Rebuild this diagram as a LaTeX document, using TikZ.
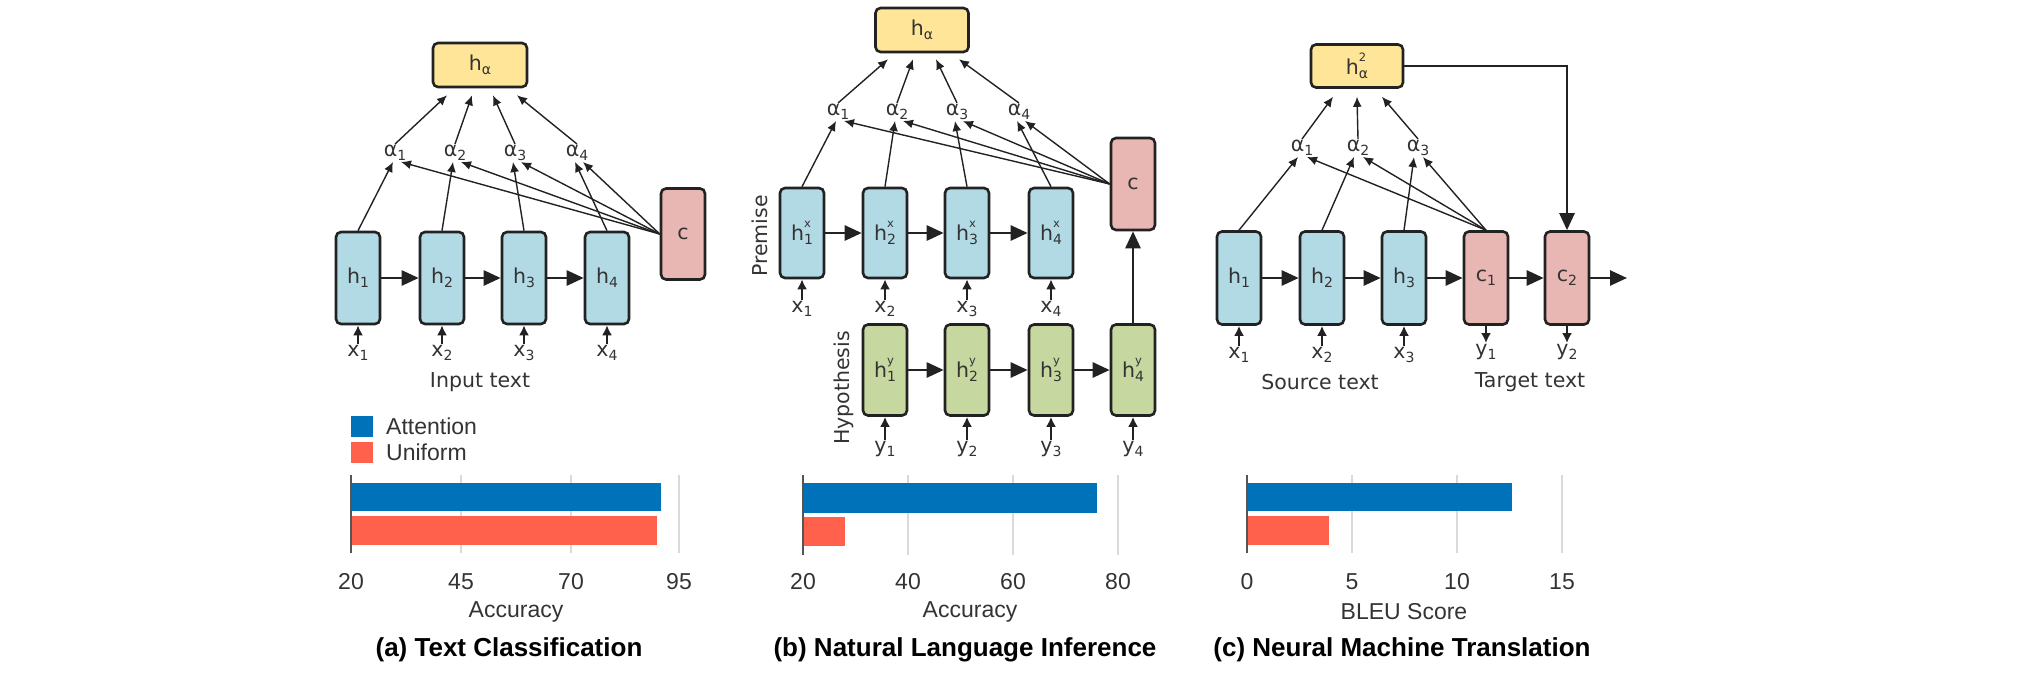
\documentclass[tikz,border=0pt]{standalone}
\usepackage{fontspec}
\setmainfont{DejaVu Sans}
\newfontfamily\chartfont{Liberation Sans}
\usetikzlibrary{arrows.meta}
\definecolor{boxblue}{HTML}{B2DAE5}
\definecolor{boxgreen}{HTML}{C6D89F}
\definecolor{boxred}{HTML}{E8B6B3}
\definecolor{boxyel}{HTML}{FFE597}
\definecolor{barblue}{HTML}{0072BA}
\definecolor{barred}{HTML}{FF614C}
\definecolor{linec}{HTML}{222222}
\definecolor{txt}{HTML}{333333}
\definecolor{gridc}{HTML}{DADADA}
\definecolor{axisc}{HTML}{555555}
\newcommand\dfont{\fontsize{20.5}{24}\selectfont}
\newcommand\cfont{\chartfont\fontsize{23}{27}\selectfont}
\newcommand\tfont{\chartfont\bfseries\fontsize{26}{30}\selectfont}
\newcommand\sbs[1]{\raisebox{-0.2em}{\fontsize{14}{14}\selectfont #1}}
\newcommand\sps[2]{\makebox[0pt][l]{\raisebox{0.62em}{\fontsize{11.5}{11.5}\selectfont #1}}\raisebox{-0.2em}{\fontsize{14}{14}\selectfont #2}}
\tikzset{
  box/.style={draw=linec, line width=2.6pt, rounded corners=5pt, minimum width=44pt, minimum height=92pt, inner sep=0pt, text=txt, font=\dfont},
  hbox/.style={box, fill=boxblue},
  gbox/.style={box, fill=boxgreen},
  rbox/.style={box, fill=boxred},
  ybox/.style={box, fill=boxyel, minimum width=93pt, minimum height=44pt},
  lbl/.style={text=txt, font=\dfont, inner sep=1pt},
  clbl/.style={text=txt, font=\cfont, inner sep=1pt},
  ttl/.style={text=black, font=\tfont, inner sep=1pt},
  att/.style={draw=linec, line width=1.4pt, -{Latex[length=10pt,width=9pt]}},
  rec/.style={draw=linec, line width=2.6pt, -{Triangle[length=17pt,width=15pt]}},
  inp/.style={draw=linec, line width=2.2pt, -{Latex[length=10pt,width=10pt]}},
  gridl/.style={draw=gridc, line width=2.5pt},
  axisl/.style={draw=axisc, line width=2pt},
}
\begin{document}
\begin{tikzpicture}[x=1pt,y=-1pt]
\useasboundingbox (0,0) rectangle (2043,685);

% ================= Panel (a) =================
\node[ybox, minimum width=94pt] (a-ha) at (480,65) {h\sbs{α}};
\node[hbox] (a-h1) at (358,278) {h\sbs{1}};
\node[hbox] (a-h2) at (442,278) {h\sbs{2}};
\node[hbox] (a-h3) at (524,278) {h\sbs{3}};
\node[hbox] (a-h4) at (607,278) {h\sbs{4}};
\node[rbox, minimum height=91pt] (a-c) at (683,234) {c};
\node[lbl] (a-a1) at (395,153) {α\sbs{1}};
\node[lbl] (a-a2) at (455,153) {α\sbs{2}};
\node[lbl] (a-a3) at (515,153) {α\sbs{3}};
\node[lbl] (a-a4) at (577,153) {α\sbs{4}};
\node[lbl] (a-x1) at (358,353) {x\sbs{1}};
\node[lbl] (a-x2) at (442,353) {x\sbs{2}};
\node[lbl] (a-x3) at (524,353) {x\sbs{3}};
\node[lbl] (a-x4) at (607,353) {x\sbs{4}};
\node[lbl] (a-in) at (480,382) {Input text};

\draw[rec] (a-h1) -- (a-h2);
\draw[rec] (a-h2) -- (a-h3);
\draw[rec] (a-h3) -- (a-h4);
\foreach \i in {1,2,3,4}{
  \draw[inp] (a-x\i) -- (a-h\i);
  \draw[att] (a-h\i.north) -- ([xshift=-2pt]a-a\i.south);
  \draw[att] (a-c.west) -- ([xshift=6pt]a-a\i.south);
}
\draw[att] (a-a1.north) -- ([xshift=-33pt,yshift=-7pt]a-ha.south);
\draw[att] (a-a2.north) -- ([xshift=-8pt,yshift=-7pt]a-ha.south);
\draw[att] (a-a3.north) -- ([xshift=13pt,yshift=-7pt]a-ha.south);
\draw[att] (a-a4.north) -- ([xshift=37pt,yshift=-7pt]a-ha.south);

% legend
\fill[barblue] (351,416) rectangle (373,437);
\fill[barred] (351,442) rectangle (373,463);
\node[clbl, anchor=west] (lg-att) at (385,426) {Attention};
\node[clbl, anchor=west] (lg-uni) at (385,452) {Uniform};

% chart (a)
\draw[gridl] (461,475) -- (461,553);
\draw[gridl] (571,475) -- (571,553);
\draw[gridl] (679,475) -- (679,553);
\fill[barblue] (351,483) rectangle (661,511);
\fill[barred] (351,516) rectangle (657,545);
\draw[axisl] (351,475) -- (351,553);
\node[clbl] (ta1) at (351,582) {20};
\node[clbl] (ta2) at (461,582) {45};
\node[clbl] (ta3) at (571,582) {70};
\node[clbl] (ta4) at (679,582) {95};
\node[clbl] (ta-x) at (516,612) {Accuracy};
\node[ttl] (ta-t) at (509,650) {(a) Text Classification};

% ================= Panel (b) =================
\node[ybox] (b-ha) at (922,30) {h\sbs{α}};
\node[hbox, minimum height=90pt] (b-p1) at (802,233) {h\sps{x}{1}};
\node[hbox, minimum height=90pt] (b-p2) at (885,233) {h\sps{x}{2}};
\node[hbox, minimum height=90pt] (b-p3) at (967,233) {h\sps{x}{3}};
\node[hbox, minimum height=90pt] (b-p4) at (1051,233) {h\sps{x}{4}};
\node[gbox, minimum height=91pt] (b-q1) at (885,370) {h\sps{y}{1}};
\node[gbox, minimum height=91pt] (b-q2) at (967,370) {h\sps{y}{2}};
\node[gbox, minimum height=91pt] (b-q3) at (1051,370) {h\sps{y}{3}};
\node[gbox, minimum height=91pt] (b-q4) at (1133,370) {h\sps{y}{4}};
\node[rbox] (b-c) at (1133,184) {c};
\node[lbl] (b-a1) at (838,112) {α\sbs{1}};
\node[lbl] (b-a2) at (897,112) {α\sbs{2}};
\node[lbl] (b-a3) at (957,112) {α\sbs{3}};
\node[lbl] (b-a4) at (1019,112) {α\sbs{4}};
\node[lbl] (b-x1) at (802,309) {x\sbs{1}};
\node[lbl] (b-x2) at (885,309) {x\sbs{2}};
\node[lbl] (b-x3) at (967,309) {x\sbs{3}};
\node[lbl] (b-x4) at (1051,309) {x\sbs{4}};
\node[lbl] (b-y1) at (885,449) {y\sbs{1}};
\node[lbl] (b-y2) at (967,449) {y\sbs{2}};
\node[lbl] (b-y3) at (1051,449) {y\sbs{3}};
\node[lbl] (b-y4) at (1133,449) {y\sbs{4}};
\node[lbl, rotate=90] (b-prem) at (760,236) {Premise};
\node[lbl, rotate=90] (b-hyp) at (844,388) {Hypothesis};

\draw[rec] (b-p1) -- (b-p2);
\draw[rec] (b-p2) -- (b-p3);
\draw[rec] (b-p3) -- (b-p4);
\draw[rec] (b-q1) -- (b-q2);
\draw[rec] (b-q2) -- (b-q3);
\draw[rec] (b-q3) -- (b-q4);
\draw[rec] (b-q4) -- (b-c);
\foreach \i in {1,2,3,4}{
  \draw[inp] (b-x\i) -- (b-p\i);
  \draw[inp] (b-y\i) -- (b-q\i);
  \draw[att] (b-p\i.north) -- ([xshift=-2pt]b-a\i.south);
  \draw[att] (b-c.west) -- ([xshift=6pt]b-a\i.south);
}
\draw[att] (b-a1.north) -- ([xshift=-34pt,yshift=-6pt]b-ha.south);
\draw[att] (b-a2.north) -- ([xshift=-9pt,yshift=-6pt]b-ha.south);
\draw[att] (b-a3.north) -- ([xshift=14pt,yshift=-6pt]b-ha.south);
\draw[att] (b-a4.north) -- ([xshift=37pt,yshift=-6pt]b-ha.south);

% chart (b)
\draw[gridl] (908,475) -- (908,555);
\draw[gridl] (1013,475) -- (1013,555);
\draw[gridl] (1118,475) -- (1118,555);
\fill[barblue] (803,483) rectangle (1097,513);
\fill[barred] (803,517) rectangle (845,546);
\draw[axisl] (803,475) -- (803,555);
\node[clbl] (tb1) at (803,582) {20};
\node[clbl] (tb2) at (908,582) {40};
\node[clbl] (tb3) at (1013,582) {60};
\node[clbl] (tb4) at (1118,582) {80};
\node[clbl] (tb-x) at (970,612) {Accuracy};
\node[ttl] (tb-t) at (965,650) {(b) Natural Language Inference};

% ================= Panel (c) =================
\node[ybox, minimum width=92pt, minimum height=43pt] (c-ha) at (1357,66) {h\sps{2}{α}};
\node[hbox, minimum height=93pt] (c-h1) at (1239,278) {h\sbs{1}};
\node[hbox, minimum height=93pt] (c-h2) at (1322,278) {h\sbs{2}};
\node[hbox, minimum height=93pt] (c-h3) at (1404,278) {h\sbs{3}};
\node[rbox, minimum height=93pt] (c-c1) at (1486,278) {c\sbs{1}};
\node[rbox, minimum height=93pt] (c-c2) at (1567,278) {c\sbs{2}};
\coordinate (c-out) at (1627,278);
\node[lbl] (c-a1) at (1302,148) {α\sbs{1}};
\node[lbl] (c-a2) at (1358,148) {α\sbs{2}};
\node[lbl] (c-a3) at (1418,148) {α\sbs{3}};
\node[lbl] (c-x1) at (1239,355) {x\sbs{1}};
\node[lbl] (c-x2) at (1322,355) {x\sbs{2}};
\node[lbl] (c-x3) at (1404,355) {x\sbs{3}};
\node[lbl] (c-y1) at (1486,352) {y\sbs{1}};
\node[lbl] (c-y2) at (1567,352) {y\sbs{2}};
\node[lbl] (c-src) at (1320,382) {Source text};
\node[lbl] (c-tgt) at (1530,382) {Target text};

\draw[rec] (c-h1) -- (c-h2);
\draw[rec] (c-h2) -- (c-h3);
\draw[rec] (c-h3) -- (c-c1);
\draw[rec] (c-c1) -- (c-c2);
\draw[rec] (c-c2) -- (c-out);
\draw[rec] (c-ha.east) -| (c-c2.north);
\foreach \i in {1,2,3}{
  \draw[inp] (c-x\i) -- (c-h\i);
  \draw[att] (c-h\i.north) -- ([xshift=-4pt]c-a\i.south);
  \draw[att] (c-c1.north) -- ([xshift=5pt]c-a\i.south);
}
\draw[inp] (c-c1) -- (c-y1);
\draw[inp] (c-c2) -- (c-y2);
\draw[att] (c-a1.north) -- ([xshift=-24pt,yshift=-8pt]c-ha.south);
\draw[att] (c-a2.north) -- ([xshift=0pt,yshift=-8pt]c-ha.south);
\draw[att] (c-a3.north) -- ([xshift=25pt,yshift=-8pt]c-ha.south);

% chart (c)
\draw[gridl] (1352,475) -- (1352,553);
\draw[gridl] (1457,475) -- (1457,553);
\draw[gridl] (1562,475) -- (1562,553);
\fill[barblue] (1247,483) rectangle (1512,511);
\fill[barred] (1247,516) rectangle (1329,545);
\draw[axisl] (1247,475) -- (1247,553);
\node[clbl] (tc1) at (1247,582) {0};
\node[clbl] (tc2) at (1352,582) {5};
\node[clbl] (tc3) at (1457,582) {10};
\node[clbl] (tc4) at (1562,582) {15};
\node[clbl] (tc-x) at (1404,612) {BLEU Score};
\node[ttl] (tc-t) at (1402,650) {(c) Neural Machine Translation};
\end{tikzpicture}
\end{document}
